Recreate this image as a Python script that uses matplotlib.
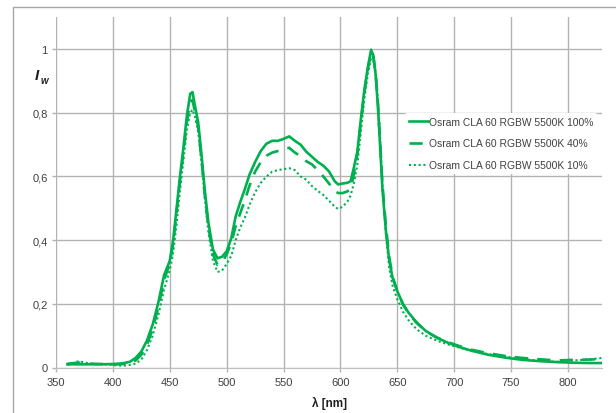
import matplotlib
matplotlib.use('Agg')
import matplotlib.pyplot as plt
from matplotlib.patches import Rectangle

plt.rcParams['font.family'] = ['Liberation Sans Narrow', 'Liberation Sans', 'DejaVu Sans']

# wavelength grid (nm)
wl = [360, 370, 380, 390, 400, 405, 410, 415, 420, 425, 430, 435, 440, 445, 450,
      453, 456, 459, 462, 465, 468, 470, 472, 475, 478, 481, 484, 488, 492, 496,
      500, 504, 508, 512, 516, 520, 525, 530, 535, 540, 545, 550, 555, 560, 565,
      570, 575, 580, 585, 590, 595, 598, 602, 606, 609, 612, 615, 618, 621, 624,
      627, 629, 631, 633, 635, 637, 640, 643, 646, 650, 655, 660, 667, 675, 685,
      695, 705, 715, 730, 745, 760, 775, 790, 805, 820, 830]

i_100 = [0.010, 0.010, 0.010, 0.010, 0.011, 0.012, 0.014, 0.018, 0.030, 0.050, 0.085, 0.135, 0.205, 0.290, 0.335,
         0.400, 0.500, 0.600, 0.690, 0.790, 0.860, 0.865, 0.825, 0.770, 0.665, 0.550, 0.455, 0.370, 0.343, 0.348,
         0.365, 0.405, 0.475, 0.520, 0.560, 0.605, 0.645, 0.680, 0.703, 0.712, 0.712, 0.718, 0.726, 0.712, 0.700,
         0.678, 0.662, 0.646, 0.634, 0.616, 0.585, 0.575, 0.578, 0.580, 0.585, 0.630, 0.680, 0.780, 0.870, 0.940,
         0.998, 0.980, 0.920, 0.820, 0.690, 0.560, 0.430, 0.335, 0.280, 0.240, 0.200, 0.172, 0.142, 0.115, 0.093,
         0.077, 0.064, 0.053, 0.040, 0.031, 0.024, 0.020, 0.017, 0.015, 0.014, 0.014]

i_40 = [0.012, 0.015, 0.012, 0.011, 0.010, 0.010, 0.011, 0.013, 0.022, 0.040, 0.072, 0.120, 0.190, 0.275, 0.325,
        0.390, 0.485, 0.585, 0.675, 0.770, 0.835, 0.840, 0.805, 0.755, 0.650, 0.535, 0.440, 0.355, 0.322, 0.330,
        0.355, 0.390, 0.445, 0.485, 0.525, 0.570, 0.615, 0.645, 0.665, 0.675, 0.680, 0.686, 0.690, 0.675, 0.664,
        0.648, 0.638, 0.620, 0.600, 0.578, 0.555, 0.548, 0.548, 0.553, 0.560, 0.610, 0.670, 0.770, 0.860, 0.935,
        0.990, 0.975, 0.925, 0.830, 0.705, 0.575, 0.445, 0.345, 0.285, 0.240, 0.198, 0.170, 0.140, 0.114, 0.094,
        0.079, 0.067, 0.056, 0.045, 0.036, 0.030, 0.026, 0.022, 0.024, 0.025, 0.027]

i_10 = [0.008, 0.020, 0.012, 0.010, 0.008, 0.006, 0.006, 0.008, 0.012, 0.025, 0.055, 0.100, 0.165, 0.245, 0.305,
        0.360, 0.450, 0.555, 0.650, 0.745, 0.800, 0.810, 0.790, 0.740, 0.640, 0.525, 0.425, 0.335, 0.300, 0.305,
        0.325, 0.350, 0.400, 0.440, 0.470, 0.510, 0.550, 0.580, 0.600, 0.615, 0.620, 0.623, 0.626, 0.620, 0.600,
        0.590, 0.570, 0.555, 0.542, 0.524, 0.505, 0.498, 0.505, 0.520, 0.540, 0.580, 0.640, 0.740, 0.840, 0.920,
        0.970, 0.965, 0.925, 0.840, 0.720, 0.570, 0.420, 0.310, 0.255, 0.215, 0.175, 0.148, 0.120, 0.100, 0.084,
        0.072, 0.062, 0.052, 0.042, 0.034, 0.027, 0.021, 0.018, 0.022, 0.026, 0.030]

labels = ['Osram CLA 60 RGBW 5500K 100%', 'Osram CLA 60 RGBW 5500K 40%', 'Osram CLA 60 RGBW 5500K 10%']
xticks = [350, 400, 450, 500, 550, 600, 650, 700, 750, 800]
yticks = [0, 0.2, 0.4, 0.6, 0.8, 1.0]
ytick_labels = ['0', '0,2', '0,4', '0,6', '0,8', '1']

green = '#00b050'
W, H = 616, 414
fig = plt.figure(figsize=(W / 100, H / 100), dpi=100)
ax = fig.add_axes([56 / W, (H - 368.5) / H, (602 - 56) / W, (368.5 - 18.3) / H])

# outer chart frame (only top/left visible)
fig.patches.append(Rectangle((12.5 / W, -0.2), 1.2, 1.2 - 7.5 / H, transform=fig.transFigure,
                             fill=False, edgecolor='#a6a6a6', linewidth=1))

ax.plot(wl, i_100, color=green, linewidth=1.9, linestyle='-', label=labels[0])
ax.plot(wl, i_40, color=green, linewidth=1.9, linestyle=(0, (5, 3.5)), label=labels[1])
ax.plot(wl, i_10, color=green, linewidth=1.5, linestyle=(0, (1, 1.3)), label=labels[2])

ax.set_xlim(350, 830)
ax.set_ylim(0, 1.1)
ax.set_xticks(xticks)
ax.set_yticks(yticks)
ax.set_yticklabels(ytick_labels)
ax.grid(True, color='#b3b3b3', linewidth=1)
ax.set_axisbelow(True)
for s in ['top', 'right', 'left']:
    ax.spines[s].set_visible(False)
ax.spines['bottom'].set_color('#bfbfbf')
ax.tick_params(axis='both', colors='#b3b3b3', labelcolor='#404040', labelsize=8, length=3, width=1)
ax.tick_params(axis='x', pad=4)
ax.tick_params(axis='y', pad=3)

ax.set_xlabel('λ [nm]', fontsize=8.5, fontweight='bold', color='#202020', labelpad=6)

fig.text(35 / W, 1 - 80 / H, 'I', fontsize=11, fontweight='bold', fontstyle='italic', color='#202020')
fig.text(41 / W, 1 - 84 / H, 'w', fontsize=7, fontweight='bold', fontstyle='italic', color='#202020')

leg = ax.legend(loc='upper left', bbox_to_anchor=(405 / W, 1 - 114 / H), bbox_transform=fig.transFigure,
                fontsize=7.4, frameon=True, facecolor='white', edgecolor='none', framealpha=1,
                handlelength=1.85, handletextpad=0.1, labelspacing=1.15, borderpad=0.35, borderaxespad=0)
for t in leg.get_texts():
    t.set_color('#404040')

fig.savefig('out.png', dpi=100)
